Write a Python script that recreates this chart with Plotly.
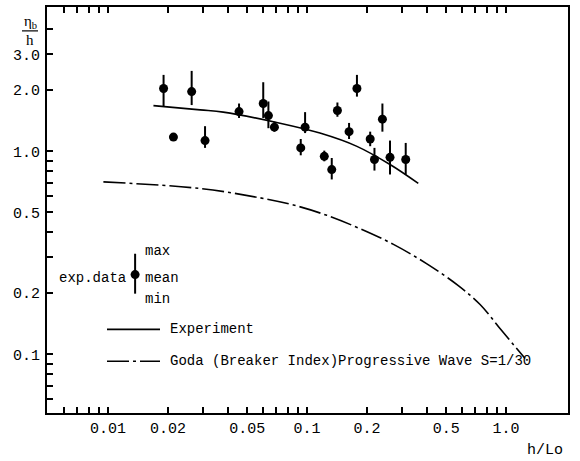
import plotly.graph_objects as go

# ---- data ----
h_lo = [0.0190, 0.0213, 0.0263, 0.0307, 0.0455, 0.0602, 0.0639, 0.0685, 0.0929, 0.0977,
        0.122, 0.133, 0.142, 0.1625, 0.178, 0.2075, 0.218, 0.239, 0.261, 0.313]
eta_mean = [2.04, 1.175, 1.97, 1.13, 1.57, 1.72, 1.50, 1.315, 1.04, 1.315,
            0.945, 0.813, 1.59, 1.25, 2.04, 1.15, 0.911, 1.44, 0.934, 0.911]
eta_max = [2.38, 1.175, 2.49, 1.33, 1.72, 2.19, 1.76, 1.40, 1.15, 1.56,
           1.008, 0.927, 1.74, 1.38, 2.38, 1.25, 1.04, 1.72, 1.13, 1.10]
eta_min = [1.66, 1.175, 1.69, 1.04, 1.46, 1.46, 1.30, 1.25, 0.956, 1.23,
           0.893, 0.727, 1.48, 1.15, 1.86, 1.06, 0.804, 1.25, 0.769, 0.769]

exp_x = [0.0169, 0.029, 0.0379, 0.0731, 0.116, 0.178, 0.261, 0.362]
exp_y = [1.68, 1.60, 1.56, 1.376, 1.23, 1.058, 0.861, 0.695]

goda_x = [0.00947, 0.029, 0.0581, 0.0853, 0.1256, 0.1845, 0.2716, 0.400, 0.575, 0.740, 0.950, 1.246]
goda_y = [0.707, 0.656, 0.590, 0.544, 0.484, 0.416, 0.348, 0.279, 0.218, 0.176, 0.131, 0.0953]

# legend glyph for "exp.data" (mean, max, min)
legend_x = [0.01367]
legend_mean = [0.247]
legend_max = [0.313]
legend_min = [0.199]

x_ticks = [0.006, 0.007, 0.008, 0.009, 0.01, 0.02, 0.03, 0.04, 0.05, 0.06, 0.07, 0.08, 0.09,
           0.1, 0.2, 0.3, 0.4, 0.5, 0.6, 0.7, 0.8, 0.9, 1.0]
x_labels = {0.01: "0.01", 0.02: "0.02", 0.05: "0.05", 0.1: "0.1", 0.2: "0.2", 0.5: "0.5", 1.0: "1.0"}
y_ticks = [0.06, 0.07, 0.08, 0.09, 0.1, 0.2, 0.3, 0.4, 0.5, 0.6, 0.7, 0.8, 0.9, 1.0, 2.0, 3.0, 4.0]
y_labels = {0.1: "0.1", 0.2: "0.2", 0.5: "0.5", 1.0: "1.0", 2.0: "2.0", 3.0: "3.0"}

MONO = "Liberation Mono"
DASHDOT = "22px,4px,3px,4px"
fig = go.Figure()

fig.add_trace(go.Scatter(
    x=exp_x, y=exp_y, mode="lines", line=dict(color="black", width=1.6, shape="spline"),
    showlegend=False, hoverinfo="skip"))
fig.add_trace(go.Scatter(
    x=goda_x, y=goda_y, mode="lines",
    line=dict(color="black", width=1.6, shape="spline", dash=DASHDOT),
    showlegend=False, hoverinfo="skip"))

fig.add_trace(go.Scatter(
    x=h_lo, y=eta_mean, mode="markers",
    marker=dict(color="black", size=9),
    error_y=dict(type="data", symmetric=False,
                 array=[a - m for a, m in zip(eta_max, eta_mean)],
                 arrayminus=[m - b for m, b in zip(eta_mean, eta_min)],
                 color="black", thickness=2, width=0),
    showlegend=False))

fig.add_trace(go.Scatter(
    x=legend_x, y=legend_mean, mode="markers",
    marker=dict(color="black", size=9),
    error_y=dict(type="data", symmetric=False,
                 array=[legend_max[0] - legend_mean[0]],
                 arrayminus=[legend_mean[0] - legend_min[0]],
                 color="black", thickness=2, width=0),
    showlegend=False))

W, H = 580, 461
L, R, T, B = 47, 568, 5, 413


def px(x):
    return (x - L) / (R - L)


def py(y):
    return (B - y) / (B - T)


ann = []
font = dict(family=MONO, size=14, color="black")
ann.append(dict(x=px(545), y=py(451), text="h/Lo", font=dict(family=MONO, size=15, color="black")))
ann.append(dict(x=px(30), y=py(20), text="η<sub>b</sub>", font=dict(family="Liberation Serif", size=15, color="black")))
ann.append(dict(x=px(30), y=py(38), text="h", font=dict(family="Liberation Serif", size=15, color="black")))
ann.append(dict(x=px(168), y=py(329), text="Experiment", xanchor="left", font=font))
ann.append(dict(x=px(168), y=py(361), text="Goda (Breaker Index)Progressive Wave S=1/30", xanchor="left", font=font))
ann.append(dict(x=px(128), y=py(277), text="exp.data", xanchor="right", font=font))
ann.append(dict(x=px(143), y=py(250), text="max", xanchor="left", font=font))
ann.append(dict(x=px(143), y=py(277), text="mean", xanchor="left", font=font))
ann.append(dict(x=px(143), y=py(298), text="min", xanchor="left", font=font))
for a in ann:
    a.update(xref="paper", yref="paper", showarrow=False)
    a.setdefault("xanchor", "center")
    a.setdefault("yanchor", "middle")

shapes = [
    dict(type="line", xref="paper", yref="paper", x0=px(107), x1=px(160), y0=py(329), y1=py(329),
         line=dict(color="black", width=1.6)),
    dict(type="line", xref="paper", yref="paper", x0=px(107), x1=px(160), y0=py(361), y1=py(361),
         line=dict(color="black", width=1.6, dash=DASHDOT)),
    dict(type="line", xref="paper", yref="paper", x0=px(22), x1=px(38), y0=py(29), y1=py(29),
         line=dict(color="black", width=1.2)),
]

fig.update_layout(
    width=W, height=H,
    margin=dict(l=L, r=W - R, t=T, b=H - B),
    paper_bgcolor="white", plot_bgcolor="white",
    annotations=ann, shapes=shapes,
    xaxis=dict(type="log", range=[-2.307, 0.311],
               tickvals=x_ticks, ticktext=[x_labels.get(v, "") for v in x_ticks],
               ticks="inside", ticklen=6, tickwidth=1.5, tickcolor="black",
               showline=True, linecolor="black", linewidth=2, mirror="ticks",
               showgrid=False, zeroline=False,
               tickfont=dict(family=MONO, size=15, color="black"), ticklabelstandoff=0),
    yaxis=dict(type="log", range=[-1.289, 0.711],
               tickvals=y_ticks, ticktext=[y_labels.get(v, "") for v in y_ticks],
               ticks="inside", ticklen=6, tickwidth=1.5, tickcolor="black",
               showline=True, linecolor="black", linewidth=2, mirror=True,
               showgrid=False, zeroline=False,
               tickfont=dict(family=MONO, size=15, color="black"), ticklabelstandoff=2),
)

fig.write_html("out.html")
